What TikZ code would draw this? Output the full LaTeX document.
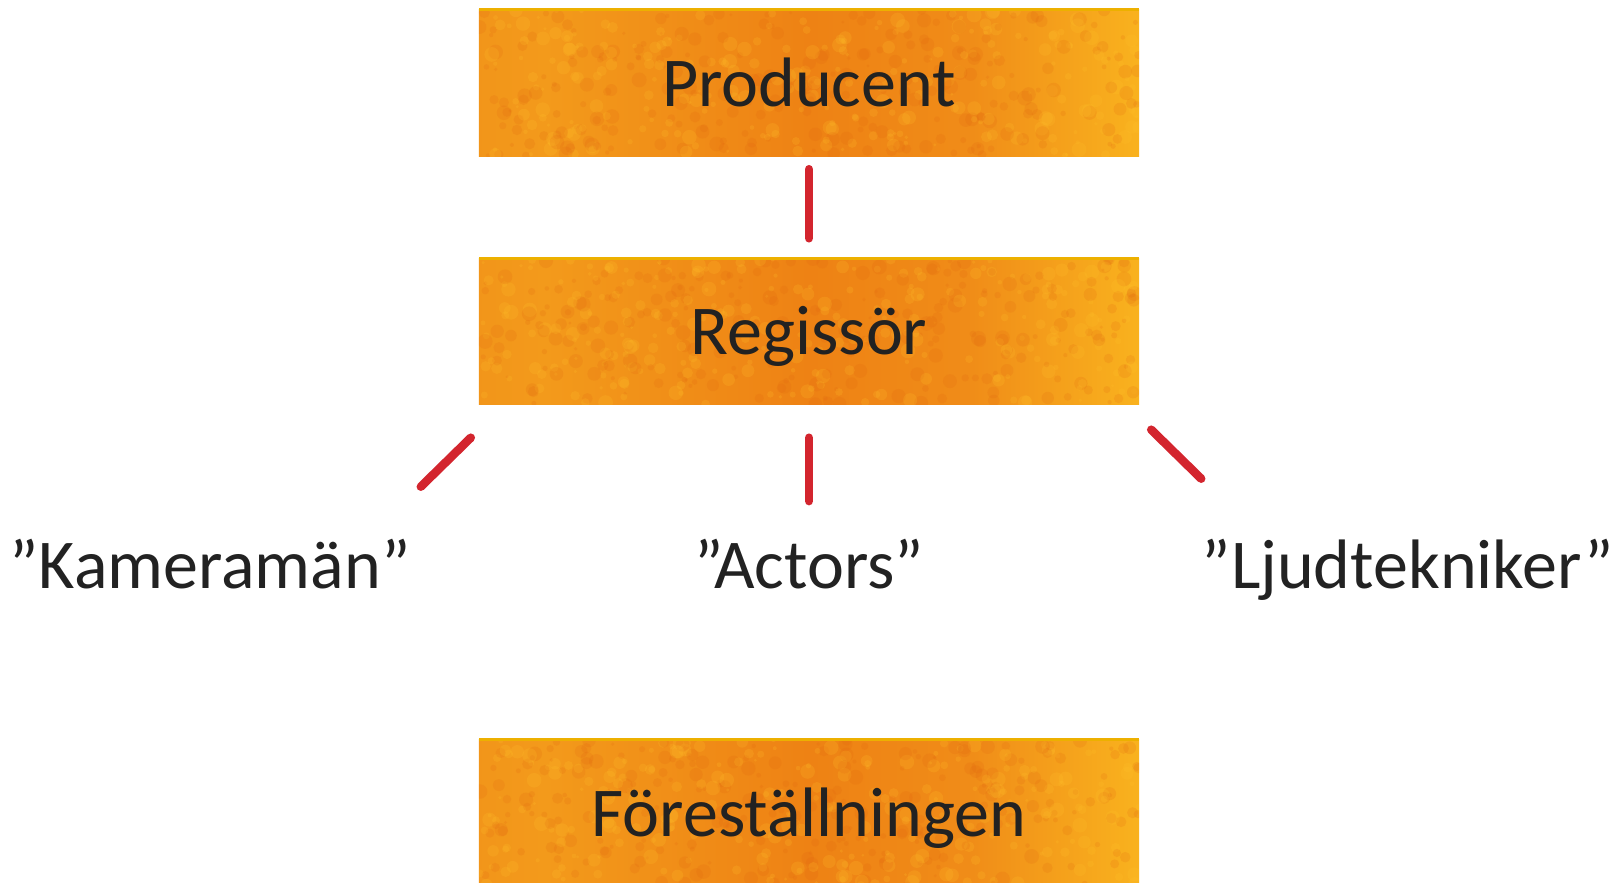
\documentclass[tikz,border=0pt]{standalone}
\usepackage{fontspec}
\setmainfont{Carlito}
\usetikzlibrary{calc,backgrounds}
\definecolor{linkred}{HTML}{D3252E}
\definecolor{rimgold}{HTML}{EDB000}
\definecolor{inkgray}{HTML}{222222}
\definecolor{rustA}{HTML}{F6A51F}
\definecolor{rustB}{HTML}{F08C18}
\definecolor{rustC}{HTML}{F39A1B}
\definecolor{rustD}{HTML}{EE8214}
\definecolor{rustE}{HTML}{F9B21E}
\definecolor{rustF}{HTML}{EE9A1E}
\definecolor{spotdark}{HTML}{E0600E}
\definecolor{spotlight}{HTML}{FFC12A}
\pgfdeclarehorizontalshading{rust}{100bp}{color(0bp)=(rustA); color(15bp)=(rustB); color(30bp)=(rustC); color(50bp)=(rustD); color(62bp)=(rustB); color(75bp)=(rustE); color(90bp)=(rustA); color(100bp)=(rustF)}
\tikzset{
	box/.style={minimum width=660pt, minimum height=146pt, inner sep=0pt,
			text height=46pt, text depth=0pt, text=inkgray, font=\fontsize{70}{80}\selectfont},
	role/.style={anchor=base, text=inkgray, font=\fontsize{70}{80}\selectfont},
	link/.style={linkred, line width=8.5pt, line cap=round}
}
\begin{document}
\begin{tikzpicture}[x=1pt,y=-1pt]
	\useasboundingbox (0,0) rectangle (1619,883);
	\clip (0,0) rectangle (1619,883);
	\pgfmathsetseed{17}

	% Boxes
	\node[box] (prod) at (809,83) {Producent};
	\node[box] (reg) at (809,331.5) {Regissör};
	\node[box] (show) at (809,813) {Föreställningen};

	% Rusty fill behind the box texts
	\begin{scope}[on background layer]
		\foreach \b in {prod, reg, show} {
				\shade[shading=rust] (\b.north west) rectangle (\b.south east);
				\begin{scope}
					\clip (\b.north west) rectangle (\b.south east);
					\foreach \i in {1,...,260} {
							\fill[spotdark, opacity=0.16] ($(\b.north west)+(660*rnd,146*rnd)$) circle ({1.5+6*rnd});
							\fill[spotlight, opacity=0.2] ($(\b.north west)+(660*rnd,146*rnd)$) circle ({1.5+6*rnd});
						}
				\end{scope}
				\draw[rimgold, line width=3pt] (\b.north west) -- (\b.north east);
			}
	\end{scope}

	% Roles
	\node[role] (kam) at (210,588) {”Kameramän”};
	\node[role] (act) at (809,588) {”Actors”};
	\node[role] (ljud) at (1408,588) {”Ljudtekniker”};

	% Links
	\draw[link, shorten <=13pt, shorten >=20pt] (prod) -- (reg);
	\draw[link, shorten <=33pt, shorten >=34pt] (reg) -- (act);
	\draw[link] ($(reg.south west)+(-8,33)$) -- ++(-50,49);
	\draw[link] ($(reg.south east)+(12,25)$) -- ++(50,49);
\end{tikzpicture}
\end{document}
